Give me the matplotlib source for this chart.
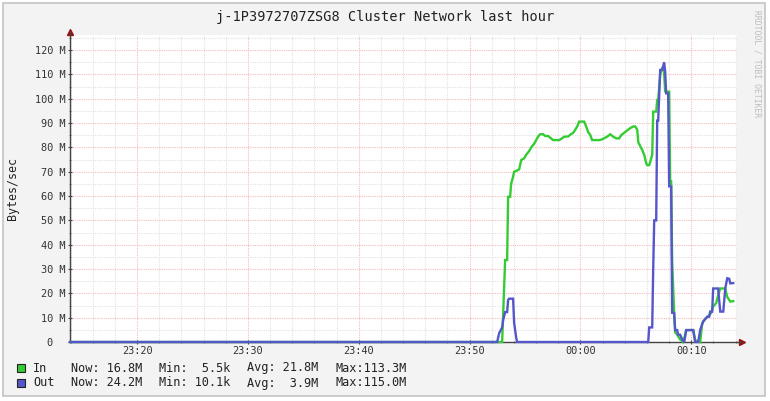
import numpy as np
import matplotlib
matplotlib.use("Agg")
import matplotlib.pyplot as plt
from matplotlib.patches import Rectangle
from matplotlib.ticker import MultipleLocator, FixedLocator

# ---- data (time in minutes after 23:00, values in MBytes/sec) ----
in_t = [13.95, 52.94, 53.21, 53.39, 53.48, 53.66, 53.75, 53.93, 54.02, 54.29, 54.48, 54.66,
        54.93, 55.11, 55.38, 55.56, 55.83, 56.01, 56.19, 56.37, 56.64, 56.82, 57.09, 57.27,
        57.54, 58.09, 58.27, 58.54, 58.90, 59.08, 59.35, 59.53, 59.71, 59.89, 60.34, 60.52,
        60.70, 60.88, 61.06, 61.70, 61.97, 62.24, 62.42, 62.69, 62.96, 63.23, 63.50, 63.68,
        63.95, 64.22, 64.49, 64.77, 64.95, 65.13, 65.22, 65.40, 65.58, 65.76, 65.94, 66.03,
        66.21, 66.30, 66.48, 66.57, 66.84, 66.93, 67.02, 67.20, 67.29, 67.47, 67.56, 67.65,
        68.01, 68.10, 68.19, 68.28, 68.46, 68.55, 68.73, 69.00, 69.28, 69.55, 70.18, 70.36,
        70.63, 70.81, 70.99, 71.26, 71.53, 71.80, 71.98, 72.25, 72.43, 72.62, 73.07, 73.25,
        73.52, 73.79]
in_v = [0, 0, 33.7, 33.7, 59.7, 59.7, 65, 68, 70, 70.5, 71, 74.8,
        75.5, 77, 78.5, 80, 81.5, 83, 84.5, 85.4, 85.4, 84.7, 84.7, 84,
        83, 83, 83.5, 84.4, 84.5, 85.2, 86, 87.2, 88.6, 90.6, 90.6, 88.6,
        86.3, 85.2, 83, 83, 83.3, 84, 84.4, 85.4, 84.4, 83.7, 83.7, 85,
        86, 87, 87.9, 88.6, 88.6, 87.2, 82.2, 80.5, 78.9, 76.9, 73.5, 72.7,
        72.7, 74, 77, 94.7, 94.7, 99.5, 99.5, 109.7, 111.8, 113.3, 110, 103,
        102.9, 66, 66, 33, 12, 4, 3, 1, 0, 4.9, 4.9, 0.5,
        0.5, 0, 7.8, 9.5, 10.5, 12, 14.6, 16, 19.3, 22, 22, 18.5,
        16.6, 16.8]

out_t = [13.95, 52.49, 52.67, 52.94, 53.03, 53.21, 53.39, 53.48, 53.57, 53.93, 54.02, 54.20,
         54.29, 66.12, 66.21, 66.48, 66.57, 66.66, 66.84, 66.93, 67.02, 67.20, 67.38, 67.56,
         67.65, 67.74, 67.92, 68.01, 68.19, 68.28, 68.46, 68.55, 68.73, 68.82, 69.00, 69.19,
         69.37, 69.55, 70.18, 70.36, 70.63, 70.81, 71.08, 71.44, 71.62, 71.71, 71.89, 71.98,
         72.43, 72.52, 72.62, 72.89, 73.07, 73.25, 73.43, 73.52, 73.79]
out_v = [0, 0, 3.6, 6, 9, 12.3, 12.3, 17.3, 17.8, 17.8, 8, 2,
         0, 0, 6, 6, 30, 50, 50, 91, 91, 111.8, 111.8, 115,
         111, 102.2, 102.2, 64, 64, 12, 11.9, 4.9, 4.9, 3, 3, 1,
         0, 4.9, 4.9, 0, 0, 5, 8.4, 10.4, 10.4, 12.5, 12.5, 22,
         22, 17.3, 12.5, 12.5, 22, 26.2, 26, 24.1, 24.2]

x_major = [20, 30, 40, 50, 60, 70]
x_labels = ["23:20", "23:30", "23:40", "23:50", "00:00", "00:10"]
y_major = [0, 10, 20, 30, 40, 50, 60, 70, 80, 90, 100, 110, 120]
y_labels = ["0  "] + [f"{v} M" for v in y_major[1:]]

title = "j-1P3972707ZSG8 Cluster Network last hour"
legend_rows = [
    ("In", "#33cc33", ["Now: 16.8M", "Min:  5.5k", "Avg: 21.8M", "Max:113.3M"]),
    ("Out", "#5555cc", ["Now: 24.2M", "Min: 10.1k", "Avg:  3.9M", "Max:115.0M"]),
]

# ---- figure ----
W, H = 770, 401
fig = plt.figure(figsize=(W / 100, H / 100), dpi=100, facecolor="white")
mono = "DejaVu Sans Mono"

def fx(px):
    return px / W

def fy(py):
    return 1 - py / H

# background panel
fig.patches.append(Rectangle((fx(3), fy(396)), fx(762), 393 / H, transform=fig.transFigure,
                             facecolor="#f3f3f3", edgecolor="#c4c4c4", linewidth=1.2, zorder=-10))

ax = fig.add_axes([fx(70), fy(342), fx(737 - 70), (342 - 35) / H])
ax.set_facecolor("white")

ax.plot(in_t, in_v, color="#33cc33", lw=1.7, zorder=3, solid_joinstyle="miter", clip_on=False)
ax.plot(out_t, out_v, color="#5555cc", lw=1.7, zorder=4, solid_joinstyle="miter", clip_on=False)

ax.set_xlim(13.95, 74.13)
ax.set_ylim(0, 126.2)

ax.xaxis.set_major_locator(FixedLocator(x_major))
ax.xaxis.set_minor_locator(MultipleLocator(2))
ax.yaxis.set_major_locator(FixedLocator(y_major))
ax.yaxis.set_minor_locator(MultipleLocator(5))
ax.set_xticklabels(x_labels)
ax.set_yticklabels(y_labels)

ax.grid(True, which="major", color="#f6bcbc", linestyle=(0, (1, 1)), linewidth=0.8, zorder=1)
ax.grid(True, which="minor", color="#e2e2e2", linestyle=(0, (1, 1)), linewidth=0.8, zorder=0)
ax.set_axisbelow(True)

for lab in ax.get_xticklabels() + ax.get_yticklabels():
    lab.set_fontfamily(mono)
    lab.set_fontsize(7.4)
    lab.set_color("#333333")

ax.tick_params(axis="both", which="major", length=3, width=0.8, color="#444444", direction="inout")
ax.tick_params(axis="both", which="minor", length=2, width=0.6, color="#666666", direction="inout")
ax.tick_params(axis="y", which="major", pad=2)
ax.tick_params(axis="x", which="major", pad=1.5)

for s in ["top", "right"]:
    ax.spines[s].set_visible(False)
for s in ["left", "bottom"]:
    ax.spines[s].set_color("#444444")
    ax.spines[s].set_linewidth(1.0)

# axis arrows
ax.plot([0], [1.01], marker="^", color="#9b1010", markersize=4, transform=ax.transAxes, clip_on=False)
ax.plot([1.008], [0], marker=">", color="#9b1010", markersize=4, transform=ax.transAxes, clip_on=False)
ax.plot([0, 0], [1.0, 1.01], color="#444444", lw=1.0, transform=ax.transAxes, clip_on=False)
ax.plot([1.0, 1.008], [0, 0], color="#444444", lw=1.0, transform=ax.transAxes, clip_on=False)

# texts
fig.text(fx(385), fy(17), title, ha="center", va="center", fontfamily=mono, fontsize=9.8, color="#222222")
fig.text(fx(13), fy(188), "Bytes/sec", ha="center", va="center", rotation=90,
         fontfamily=mono, fontsize=8.4, color="#222222")
fig.text(fx(757), fy(10), "RRDTOOL / TOBI OETIKER", ha="center", va="top", rotation=-90,
         fontfamily=mono, fontsize=5.8, color="#bdbdbd")

row_y = [368, 383]
field_x = [71, 159, 247, 335]
for (name, col, fields), ry in zip(legend_rows, row_y):
    fig.patches.append(Rectangle((fx(17), fy(ry + 4)), fx(8), 8 / H, transform=fig.transFigure,
                                 facecolor=col, edgecolor="#222222", linewidth=0.8))
    fig.text(fx(33), fy(ry), name, ha="left", va="center", fontfamily=mono, fontsize=8.6, color="#222222")
    for fxp, txt in zip(field_x, fields):
        fig.text(fx(fxp), fy(ry), txt, ha="left", va="center", fontfamily=mono, fontsize=8.6, color="#222222")

fig.savefig("out.png", dpi=100, facecolor="white")
